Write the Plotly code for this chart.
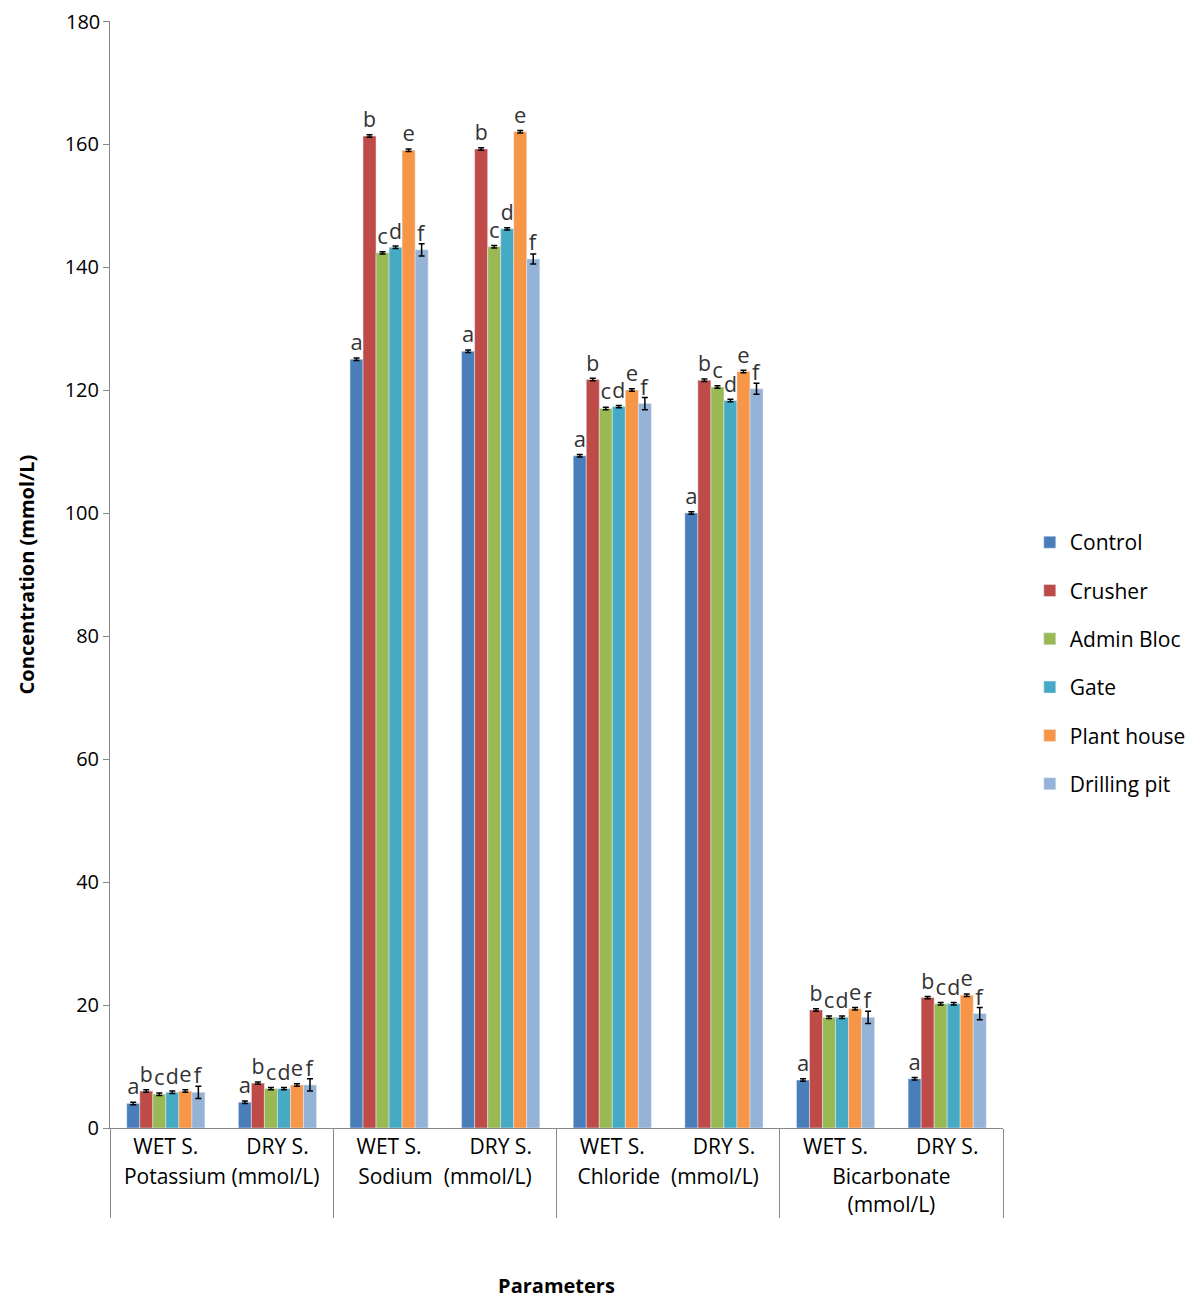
import plotly.graph_objects as go

params = ["Potassium (mmol/L)", "Potassium (mmol/L)", "Sodium  (mmol/L)", "Sodium  (mmol/L)",
          "Chloride  (mmol/L)", "Chloride  (mmol/L)", "Bicarbonate<br>(mmol/L)", "Bicarbonate<br>(mmol/L)"]
seasons = ["WET S.", "DRY S."] * 4

series = ["Control", "Crusher", "Admin Bloc", "Gate", "Plant house", "Drilling pit"]
colors = ["#4a7ebb", "#be4b48", "#98b954", "#46aac5", "#f79646", "#95b3d7"]
letters = ["a", "b", "c", "d", "e", "f"]

values = [
    [4.0, 4.2, 125.0, 126.3, 109.3, 100.0, 7.8, 8.0],
    [6.0, 7.3, 161.3, 159.2, 121.7, 121.6, 19.2, 21.2],
    [5.5, 6.4, 142.3, 143.3, 117.0, 120.5, 18.0, 20.2],
    [5.8, 6.4, 143.2, 146.2, 117.3, 118.3, 18.0, 20.2],
    [6.0, 7.0, 159.0, 162.0, 120.0, 123.0, 19.4, 21.6],
    [5.8, 7.0, 142.8, 141.3, 117.8, 120.2, 18.0, 18.6],
]
errors = [
    [0.2, 0.2, 0.2, 0.2, 0.2, 0.2, 0.2, 0.2],
    [0.2, 0.2, 0.2, 0.2, 0.2, 0.2, 0.2, 0.2],
    [0.2, 0.2, 0.2, 0.2, 0.2, 0.2, 0.2, 0.2],
    [0.2, 0.2, 0.2, 0.2, 0.2, 0.2, 0.2, 0.2],
    [0.2, 0.2, 0.2, 0.2, 0.2, 0.2, 0.2, 0.2],
    [1.0, 1.0, 1.0, 0.8, 1.0, 0.9, 1.0, 1.0],
]

fig = go.Figure()
for name, col, let, vals, err in zip(series, colors, letters, values, errors):
    fig.add_trace(go.Bar(
        name=name, x=[params, seasons], y=vals, marker_color=col, legendgroup=name,
        error_y=dict(type="data", array=err, color="black", thickness=1.5, width=3),
        text=[let] * len(vals), textposition="outside", cliponaxis=False,
        textfont=dict(size=22, color="#333"),
    ))

fig.update_layout(
    barmode="group", bargap=0.3, bargroupgap=0,
    width=1201, height=1298, plot_bgcolor="white", paper_bgcolor="white",
    font=dict(family="Open Sans, Calibri, sans-serif", size=21, color="black"),
    margin=dict(l=102, r=206, t=13, b=178, autoexpand=False),
    legend=dict(x=1.03, y=0.42, yanchor="middle", font=dict(size=21), itemwidth=30,
                traceorder="grouped", tracegroupgap=18),
)
# top tick label gets dropped at the plot edge, so draw it by hand
fig.add_annotation(text="180", x=0, xref="paper", y=180, yref="y", xanchor="right",
                   xshift=-8, showarrow=False, font=dict(size=20))
fig.update_yaxes(range=[0, 180], tickvals=[0, 20, 40, 60, 80, 100, 120, 140, 160, 180],
                 showline=True, linecolor="#888",
                 showgrid=False, ticks="outside", ticklen=6, tickcolor="#888",
                 tickfont=dict(size=20),
                 title=dict(text="<b>Concentration (mmol/L)</b>", font=dict(size=20), standoff=24))
fig.update_xaxes(showline=True, linecolor="#888", showdividers=True, dividercolor="#888",
                 dividerwidth=1, tickfont=dict(size=21),
                 title=dict(text="<b>Parameters</b>", font=dict(size=20), standoff=62))

fig.write_html("out.html")
